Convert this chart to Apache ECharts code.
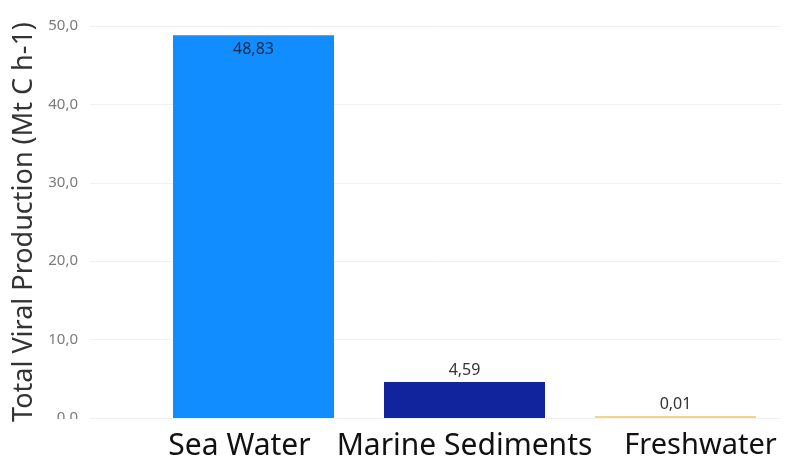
<!DOCTYPE html>
<html>
<head>
<meta charset="utf-8">
<script src="https://cdn.jsdelivr.net/npm/echarts@6/dist/echarts.min.js"></script>
<style>
  html, body { margin: 0; padding: 0; background: #fff; }
  #chart { width: 785px; height: 462px; }
</style>
</head>
<body>
<div id="chart"></div>
<script>
// Total viral production by environment
const categories = ['Sea Water', 'Marine Sediments', 'Freshwater'];
const production = [48.83, 4.59, 0.01];
const barColors = ['#118DFF', '#12239E', '#F2D58A'];
const yTicks = [0, 10, 20, 30, 40, 50];

const fmt = (v, d) => v.toFixed(d).replace('.', ',');
const FONT = '"Noto Sans", "Open Sans", sans-serif';

// outer category labels are nudged apart so the long middle one has room
const labelStyleKey = ['l', 'm', 'r'];

const chart = echarts.init(document.getElementById('chart'), null, { renderer: 'canvas' });

chart.setOption({
  animation: false,
  textStyle: { fontFamily: FONT },
  grid: [
    // background grid: gridlines and y tick labels
    { left: 90, right: 4, top: 26, bottom: 44 },
    // bars
    { left: 148, right: 4, top: 26, bottom: 44 }
  ],
  xAxis: [
    { gridIndex: 0, type: 'value', show: false, min: 0, max: 1 },
    {
      gridIndex: 1,
      type: 'category',
      data: categories,
      axisLine: { show: false },
      axisTick: { show: false },
      axisLabel: {
        color: '#111', fontSize: 30, margin: 13, fontFamily: FONT,
        interval: 0, hideOverlap: false,
        formatter: (v, i) => '{' + labelStyleKey[i] + '|' + v + '}',
        rich: {
          l: { fontSize: 30, color: '#111', padding: [0, 28, 0, 0] },
          m: { fontSize: 30, color: '#111' },
          r: { fontSize: 29, color: '#111', padding: [0, 0, 0, 50] }
        }
      }
    }
  ],
  yAxis: [
    {
      gridIndex: 0,
      type: 'value',
      min: yTicks[0],
      max: yTicks[yTicks.length - 1],
      interval: 10,
      name: 'Total Viral Production (Mt C h-1)',
      nameLocation: 'middle',
      nameGap: 51,
      nameTextStyle: { color: '#333', fontSize: 27, fontFamily: FONT },
      axisLine: { show: false },
      axisTick: { show: false },
      axisLabel: { color: '#7a7a7a', fontSize: 15, margin: 12, formatter: v => fmt(v, 1) },
      splitLine: { lineStyle: { color: '#f1f1f1', width: 1 } }
    },
    {
      gridIndex: 1,
      type: 'value',
      min: yTicks[0],
      max: yTicks[yTicks.length - 1],
      show: false,
      splitLine: { show: false }
    }
  ],
  // lower half of the zero tick label is cut off by the category band
  graphic: [{
    type: 'rect',
    left: 40, top: 419,
    shape: { width: 50, height: 12 },
    style: { fill: '#fff' },
    z: 100
  }],
  series: [{
    type: 'bar',
    xAxisIndex: 1,
    yAxisIndex: 1,
    barWidth: 161,
    barMinHeight: 2,
    data: production.map((v, i) => ({
      value: v,
      itemStyle: { color: barColors[i] },
      label: {
        show: true,
        position: i === 0 ? 'insideTop' : 'top',
        distance: i === 0 ? 6 : 4,
        color: i === 0 ? '#1a2a44' : '#333',
        fontSize: 16,
        formatter: p => fmt(p.value, 2)
      }
    }))
  }]
});
</script>
</body>
</html>
